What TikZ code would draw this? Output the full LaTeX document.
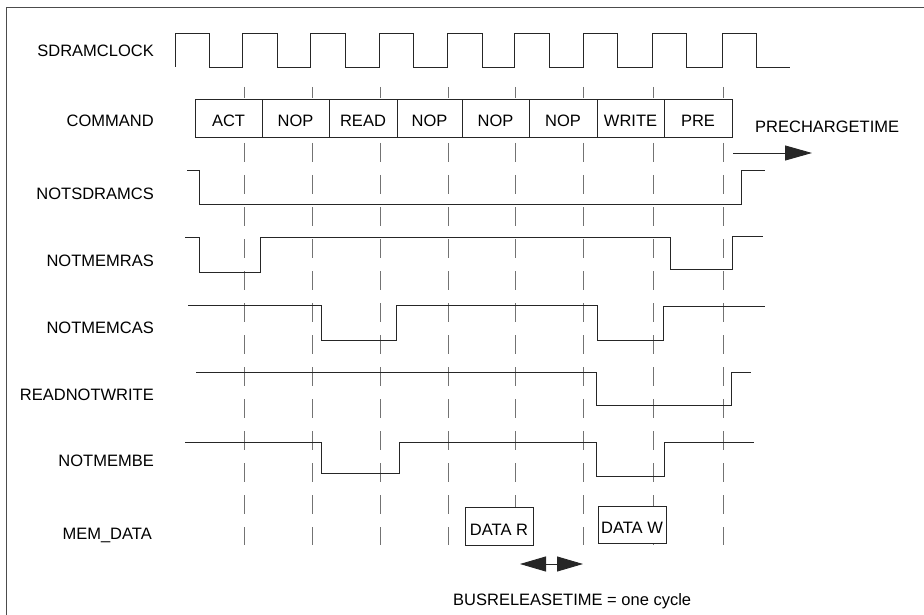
\documentclass[tikz,border=0pt]{standalone}
\usepackage{fontspec}
\setmainfont{Liberation Sans}
\usetikzlibrary{arrows.meta}
\begin{document}
\begin{tikzpicture}[x=1pt,y=-1pt,
  sig/.style={line width=0.9pt, black!85},
  gridline/.style={line width=0.9pt, black!55, dash pattern=on 19pt off 13pt, dash phase=8pt},
  lbl/.style={font=\fontsize{16.5}{18}\selectfont, inner sep=0pt, anchor=base east},
  txt/.style={font=\fontsize{16.5}{18}\selectfont, inner sep=0pt, anchor=base west},
  cmdbox/.style={draw, line width=0.9pt, black!85, text=black, fill=white, inner sep=0pt,
    minimum height=38pt, text height=18pt, text depth=0pt,
    font=\fontsize{16.5}{18}\selectfont},
  big/.style={line width=0.9pt, black!85}
]
\useasboundingbox (0,0) rectangle (924,615);
\clip (0,0) rectangle (924,615);
\draw[line width=1pt, black!70] (6,8) rectangle (960,650);

% labels
\node[lbl] (lclk) at (154,57) {SDRAMCLOCK};
\node[lbl] (lcmd) at (154,127) {COMMAND};
\node[lbl] (lcs) at (154,199) {NOTSDRAMCS};
\node[lbl] (lras) at (154,266) {NOTMEMRAS};
\node[lbl] (lcas) at (154,333) {NOTMEMCAS};
\node[lbl] (lrnw) at (154,400) {READNOTWRITE};
\node[lbl] (lbe) at (154,466) {NOTMEMBE};
\node[lbl] (ldata) at (152,539) {MEM\_DATA};

% dashed cycle lines
\foreach \x in {244,312,380,448,515,583,653,723}
  \draw[gridline] (\x,87) -- (\x,545);

% clock
\draw[sig] (175,67) -- (175,33) -- (209,33) -- (209,67) -- (242,67) -- (242,33) -- (277,33) -- (277,67)
  -- (310,67) -- (310,33) -- (345,33) -- (345,67) -- (379,67) -- (379,33) -- (413,33) -- (413,67)
  -- (447,67) -- (447,33) -- (482,33) -- (482,67) -- (514,67) -- (514,33) -- (549,33) -- (549,67)
  -- (583,67) -- (583,33) -- (617,33) -- (617,67) -- (652,67) -- (652,33) -- (686,33) -- (686,67)
  -- (722,67) -- (722,33) -- (756,33) -- (756,67) -- (790,67);

% command boxes
\node[cmdbox, minimum width=67pt] (cACT) at (228.5,118) {ACT};
\node[cmdbox, minimum width=67pt] (cNOP1) at (295.5,118) {NOP};
\node[cmdbox, minimum width=68pt] (cREAD) at (363,118) {READ};
\node[cmdbox, minimum width=65pt] (cNOP2) at (429.5,118) {NOP};
\node[cmdbox, minimum width=67pt] (cNOP3) at (495.5,118) {NOP};
\node[cmdbox, minimum width=68pt] (cNOP4) at (563,118) {NOP};
\node[cmdbox, minimum width=67pt] (cWRITE) at (630.5,118) {WRITE};
\node[cmdbox, minimum width=68pt] (cPRE) at (698,118) {PRE};

% precharge arrow
\node[txt] (tpre) at (755,133) {PRECHARGETIME};
\coordinate (pcA) at (733,153);
\coordinate (pcB) at (812,153);
\draw[big, -{Triangle[length=27pt,width=15pt]}] (pcA) -- (pcB);

% signals
\draw[sig] (187,170) -- (199,170) -- (199,204) -- (741,204) -- (741,170) -- (765,170);
\draw[sig] (185,237) -- (199,237) -- (199,272) -- (260,272) -- (260,237) -- (670,237) -- (670,269)
  -- (732,269) -- (732,236) -- (763,236);
\draw[sig] (188,305) -- (321,305) -- (321,340) -- (396,340) -- (396,305) -- (597,305) -- (597,340)
  -- (663,340) -- (663,306) -- (765,306);
\draw[sig] (196,372) -- (596,372) -- (596,405) -- (731,405) -- (731,372) -- (751,372);
\draw[sig] (185,442) -- (321,442) -- (321,473) -- (399,473) -- (399,442) -- (596,442) -- (596,476)
  -- (664,476) -- (664,442) -- (754,442);

% data boxes
\node[cmdbox, minimum width=68pt] (dR) at (499,526) {DATA R};
\node[cmdbox, minimum width=68pt, minimum height=37pt] (dW) at (632,524.5) {DATA W};

% bus release arrow
\coordinate (brA) at (520,564);
\coordinate (brB) at (583,564);
\draw[big, {Triangle[length=26pt,width=15pt]}-{Triangle[length=26pt,width=15pt]}] (brA) -- (brB);
\node[txt] (tbus) at (453,605) {BUSRELEASETIME = one cycle};
\end{tikzpicture}
\end{document}
